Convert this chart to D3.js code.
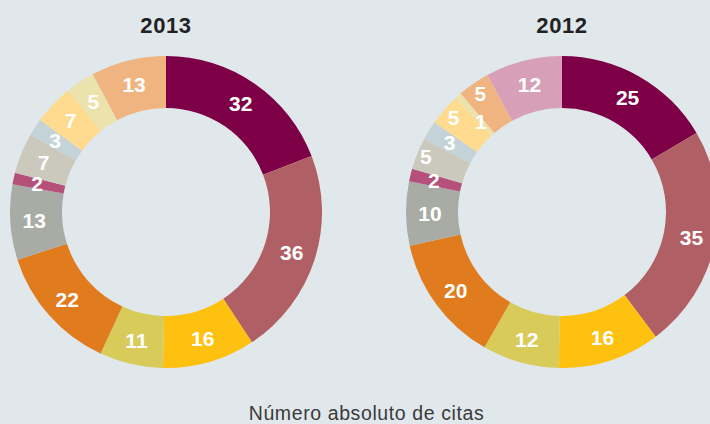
<!DOCTYPE html>
<html><head><meta charset="utf-8">
<script src="https://cdn.jsdelivr.net/npm/d3@7/dist/d3.min.js"></script>
<style>html,body{margin:0;padding:0;background:#e0e8ec;overflow:hidden}</style>
</head><body>
<svg id="c" width="710" height="424"></svg>
<script>
const titles = ["2013", "2012"];
const categories2013 = ["a","b","c","d","e","f","g","h","i","j","k","l"];
const values2013 = [32, 36, 16, 11, 22, 13, 2, 7, 3, 7, 5, 13];
const categories2012 = ["a","b","c","d","e","f","g","h","i","j","k","l","m"];
const values2012 = [25, 35, 16, 12, 20, 10, 2, 5, 3, 5, 1, 5, 12];
const colorMap = {a:"#7d0046", b:"#b06064", c:"#fec110", d:"#d8cb5a", e:"#e07b1e",
  f:"#a9aca4", g:"#b5507a", h:"#cbc8bc", i:"#c3d3d8", j:"#fedb8e", k:"#ebe3ab",
  l:"#efb47f", m:"#d8a0b8"};
const xLabel = "Número absoluto de citas";

const svg = d3.select("#c");
const outerR = 156, innerR = 104, labelR = 132;
const centers = d3.scalePoint().domain(titles).range([166, 562]);

function donut(title, cats, vals) {
  const cx = centers(title), cy = 212;
  const data = cats.map((c, i) => ({cat: c, value: vals[i]}));
  const pie = d3.pie().value(d => d.value).sort(null);
  const arcs = pie(data);
  const arc = d3.arc().innerRadius(innerR).outerRadius(outerR);
  const g = svg.append("g").attr("transform", `translate(${cx},${cy})`);
  g.selectAll("path").data(arcs).join("path")
    .attr("d", arc).attr("fill", d => colorMap[d.data.cat]);

  // label radii: tiny slices inward, neighbours outward, crowded labels outward
  const rs = arcs.map(() => labelR);
  arcs.forEach((a, i) => {
    if ((a.endAngle - a.startAngle) * 180 / Math.PI < 3) {
      rs[i] = 122;
      if (i > 0) rs[i-1] = 144;
      if (i < arcs.length - 1) rs[i+1] = 144;
    }
  });
  const pos = (a, r) => { const m = (a.startAngle + a.endAngle) / 2; return [Math.sin(m) * r, -Math.cos(m) * r]; };
  const pts = arcs.map((a, i) => pos(a, rs[i]));
  for (let i = 1; i < arcs.length; i++) {
    const [x0, y0] = pts[i-1], [x1, y1] = pts[i];
    if (Math.hypot(x1 - x0, y1 - y0) < 20 && rs[i] === labelR) {
      rs[i] = 147; pts[i] = pos(arcs[i], rs[i]);
    }
  }
  g.selectAll("text.v").data(arcs).join("text").attr("class", "v")
    .attr("x", (d, i) => pts[i][0]).attr("y", (d, i) => pts[i][1])
    .attr("dy", "0.36em").attr("text-anchor", "middle")
    .attr("font-family", "Liberation Sans, Arial, sans-serif")
    .attr("font-weight", "bold").attr("font-size", 21).attr("fill", "#fff")
    .text(d => d.data.value);

  svg.append("text").attr("x", cx).attr("y", 33.3).attr("text-anchor", "middle")
    .attr("font-family", "Liberation Sans, Arial, sans-serif")
    .attr("font-weight", "bold").attr("font-size", 22).attr("letter-spacing", 0.6)
    .attr("fill", "#222").text(title);
}
donut(titles[0], categories2013, values2013);
donut(titles[1], categories2012, values2012);

svg.append("text").attr("x", 366.5).attr("y", 419.5).attr("text-anchor", "middle")
  .attr("font-family", "Liberation Sans, Arial, sans-serif")
  .attr("font-size", 19.5).attr("letter-spacing", 0.6).attr("fill", "#3a3a3a").text(xLabel);
</script>
</body></html>
